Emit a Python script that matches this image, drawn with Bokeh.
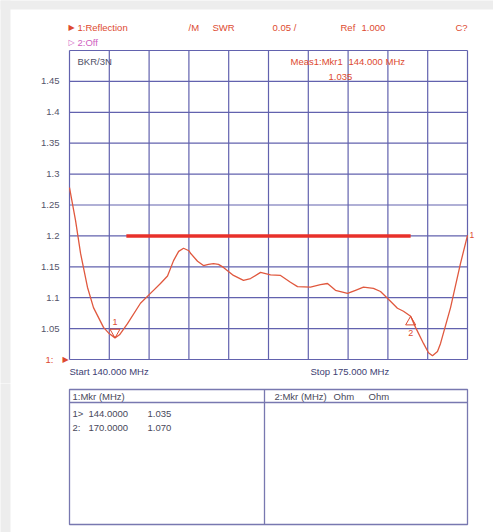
from bokeh.plotting import figure
from bokeh.models import Range1d, Label
from bokeh.layouts import column
from bokeh.core.properties import value
from bokeh.embed import file_html
from bokeh.resources import INLINE

# ---------------- data ----------------
freq_mhz = [140.0, 140.53, 140.97, 141.58, 142.11, 142.99, 143.43, 144.0, 144.4, 145.10,
            146.24, 147.12, 148.00, 148.62, 149.15, 149.6, 150.03, 150.5, 150.64, 151.26,
            151.78, 152.22, 152.66, 153.10, 153.54, 154.42, 155.30, 155.92, 156.80, 157.68,
            158.56, 159.43, 160.05, 161.19, 162.07, 162.69, 163.39, 164.45, 165.15, 165.85,
            166.73, 167.35, 167.96, 168.84, 169.37, 170.0, 170.43, 171.13, 171.57, 171.92,
            172.36, 172.63, 173.51, 174.38, 175.0]
swr = [1.278, 1.225, 1.172, 1.117, 1.084, 1.052, 1.043, 1.035, 1.040, 1.058,
       1.091, 1.107, 1.123, 1.135, 1.160, 1.175, 1.180, 1.176, 1.172, 1.159,
       1.152, 1.154, 1.155, 1.154, 1.149, 1.136, 1.128, 1.131, 1.141, 1.137,
       1.136, 1.125, 1.118, 1.117, 1.121, 1.123, 1.112, 1.107, 1.112, 1.117,
       1.115, 1.110, 1.099, 1.083, 1.078, 1.070, 1.052, 1.026, 1.011, 1.006,
       1.013, 1.026, 1.084, 1.155, 1.201]

limit_freq = [145.0, 170.0]
limit_swr = [1.2, 1.2]

marker_ids = ["1", "2"]
marker_freq = [144.0, 170.0]
marker_swr = [1.035, 1.070]

x_grid_mhz = [140.0, 143.5, 147.0, 150.5, 154.0, 157.5, 161.0, 164.5, 168.0, 171.5, 175.0]
y_grid = [1.0, 1.05, 1.1, 1.15, 1.2, 1.25, 1.3, 1.35, 1.4, 1.45, 1.5]
y_tick_values = [1.05, 1.1, 1.15, 1.2, 1.25, 1.3, 1.35, 1.4, 1.45]
y_tick_labels = ["1.05", "1.1", "1.15", "1.2", "1.25", "1.3", "1.35", "1.4", "1.45"]

start_mhz, stop_mhz = 140.0, 175.0
y_min, y_max = 1.0, 1.5
scale_per_div = 0.05
ref_level = 1.000

# ---------------- layout / styles ----------------
FONT = "Liberation Sans"
RED = "#dd4a30"
TRACE = "#e0583e"
GRID = "#6262ae"
PINK = "#d060c0"
DARK = "#505068"
BLUEGRAY = "#404072"
PAGE_GRAY = "#ededed"
W = 493
H1 = 383
H2 = 149
GL, GR, GT, GB = 69, 467, 50, 359   # grid box in canvas pixels
MARGIN_L, MARGIN_T = 10, 9          # grey page margin

x_per_px = (stop_mhz - start_mhz) / (GR - GL)
y_per_px = (y_max - y_min) / (GB - GT)
x_rng = Range1d(start_mhz - GL * x_per_px, stop_mhz + (W - GR) * x_per_px)
y_rng = Range1d(y_min - (H1 - GB) * y_per_px, y_max + GT * y_per_px)


def lab(fig, x, y, text, color, size="9.5px", font=FONT, align="left", units="screen",
        x_off=0, y_off=0):
    fig.add_layout(Label(x=x, y=y, text=text, x_units=units, y_units=units,
                         text_color=color, text_font_size=size, text_font=font,
                         text_align=align, text_baseline="middle",
                         x_offset=x_off, y_offset=y_off))


def bare(fig):
    fig.background_fill_color = "white"
    fig.border_fill_color = "white"
    fig.outline_line_color = None
    fig.grid.visible = False


p = figure(width=W, height=H1, x_range=x_rng, y_range=y_rng, title=None,
           x_axis_type=None, y_axis_type=None, output_backend="svg",
           toolbar_location=None, min_border=0)
bare(p)

# grey page margin (top and left), drawn past the canvas edges
pad_x, pad_y = 20 * x_per_px, 20 * y_per_px
p.quad(left=[x_rng.start - pad_x], right=[x_rng.end + pad_x],
       bottom=[y_rng.end - MARGIN_T * y_per_px], top=[y_rng.end + pad_y],
       fill_color=PAGE_GRAY, line_color=None)
p.quad(left=[x_rng.start - pad_x], right=[x_rng.start + MARGIN_L * x_per_px],
       bottom=[y_rng.start - pad_y], top=[y_rng.end + pad_y],
       fill_color=PAGE_GRAY, line_color=None)

# grid
p.segment(x0=x_grid_mhz, y0=[y_min] * len(x_grid_mhz), x1=x_grid_mhz,
          y1=[y_max] * len(x_grid_mhz), line_color=GRID, line_width=1.2)
p.segment(x0=[start_mhz] * len(y_grid), y0=y_grid, x1=[stop_mhz] * len(y_grid),
          y1=y_grid, line_color=GRID, line_width=1.2)

# y tick labels
p.text(x=[start_mhz] * len(y_tick_values), y=y_tick_values, text=y_tick_labels,
       x_offset=-10, text_align="right", text_baseline="middle",
       text_font=value(FONT), text_font_size="9.5px", text_color="#55556a")

# limit line and trace
p.line(limit_freq, limit_swr, line_color="#e8302a", line_width=3.5)
p.line(freq_mhz, swr, line_color=TRACE, line_width=1.3)

# markers (triangle apex sits on the trace)
tri_size = 10
apex_px = (tri_size / 2) * (3 ** 0.5) * 2 / 3
d = apex_px * y_per_px
p.scatter([marker_freq[0]], [marker_swr[0] + d], marker="inverted_triangle", size=tri_size,
          fill_color=None, line_color=RED, line_width=1)
p.scatter([marker_freq[1]], [marker_swr[1] - d], marker="triangle", size=tri_size,
          fill_color=None, line_color=RED, line_width=1)
lab(p, marker_freq[0], marker_swr[0], marker_ids[0], RED, size="9px", align="center",
    units="data", y_off=16)
lab(p, marker_freq[1], marker_swr[1], marker_ids[1], RED, size="9px", align="center",
    units="data", y_off=-17)
lab(p, freq_mhz[-1], swr[-1], "1", RED, size="8.5px", units="data", x_off=2)

# reference-level pointer
lab(p, start_mhz, ref_level, "1:", RED, align="right", units="data", x_off=-16)
lab(p, start_mhz, ref_level, "\u25B6", RED, size="8px", font="DejaVu Sans",
    align="center", units="data", x_off=-4)


def sy(Y):
    return H1 - Y


# header texts
lab(p, 71, sy(27), "\u25B6", RED, size="8px", font="DejaVu Sans", align="center")
lab(p, 77, sy(27), "1:Reflection", RED)
lab(p, 188, sy(27), "/M", RED)
lab(p, 212, sy(27), "SWR", RED)
lab(p, 272, sy(27), f"{scale_per_div:.2f} /", RED)
lab(p, 340, sy(27), "Ref", RED)
lab(p, 361, sy(27), f"{ref_level:.3f}", RED)
lab(p, 455, sy(27), "C?", RED)
lab(p, 71, sy(42), "\u25B7", PINK, size="8px", font="DejaVu Sans", align="center")
lab(p, 77, sy(42), "2:Off", PINK)

lab(p, 77, sy(61), "BKR/3N", DARK)
lab(p, 290, sy(61), "Meas1:Mkr1", RED)
lab(p, 348, sy(61), f"{marker_freq[0]:.3f} MHz", RED)
lab(p, 328, sy(76), f"{marker_swr[0]:.3f}", RED)

lab(p, 69, sy(371), f"Start {start_mhz:.3f} MHz", BLUEGRAY)
lab(p, 310, sy(371), f"Stop {stop_mhz:.3f} MHz", BLUEGRAY)

# ---------------- marker table ----------------
TB_L, TB_B = 69, 8      # table box offset inside its canvas
TB_W, TB_H = 398, 135
t = figure(width=W, height=H2, x_range=Range1d(-TB_L, W - TB_L),
           y_range=Range1d(-TB_B, H2 - TB_B), title=None,
           x_axis_type=None, y_axis_type=None, output_backend="svg",
           toolbar_location=None, min_border=0)
bare(t)
t.quad(left=[-TB_L - 20], right=[-TB_L + MARGIN_L], bottom=[-TB_B - 20], top=[H2 - TB_B + 20],
       fill_color=PAGE_GRAY, line_color=None)
BOX = "#7878b0"
t.quad(left=[0], right=[TB_W], bottom=[0], top=[TB_H], fill_color=None,
       line_color=BOX, line_width=1.3)
t.segment(x0=[195, 0], y0=[0, 122], x1=[195, TB_W], y1=[TB_H, 122],
          line_color=BOX, line_width=1.3)

TXT = "#48485a"
lab(t, 3, 128, "1:Mkr (MHz)", TXT, units="data")
lab(t, 205, 128, "2:Mkr (MHz)", TXT, units="data")
lab(t, 264, 128, "Ohm", TXT, units="data")
lab(t, 299, 128, "Ohm", TXT, units="data")
row_y = [111, 97]
row_tag = ["1>", "2:"]
for i in range(len(marker_ids)):
    lab(t, 3, row_y[i], row_tag[i], TXT, units="data")
    lab(t, 19, row_y[i], f"{marker_freq[i]:.4f}", TXT, units="data")
    lab(t, 78, row_y[i], f"{marker_swr[i]:.3f}", TXT, units="data")

layout = column(p, t, spacing=0)
open("out.html", "w").write(file_html(layout, INLINE))
